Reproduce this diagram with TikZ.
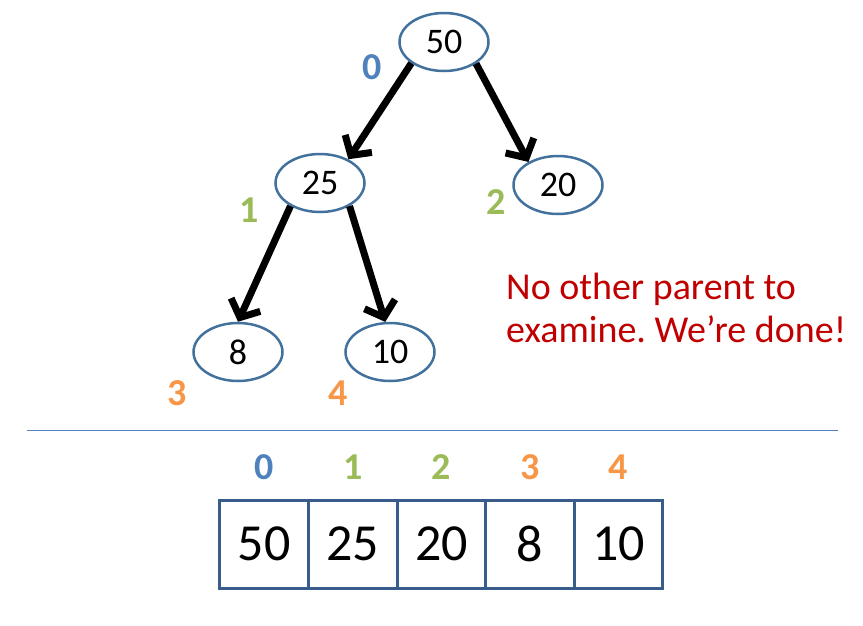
\documentclass[tikz,border=0pt]{standalone}
\usepackage{fontspec}
\setmainfont{Carlito}
\usetikzlibrary{shapes.geometric,arrows.meta}
\definecolor{nodeblue}{HTML}{41719C}
\definecolor{boxblue}{HTML}{385D8A}
\definecolor{iblue}{HTML}{4F81BD}
\definecolor{igreen}{HTML}{9BBB59}
\definecolor{iorange}{HTML}{F79646}
\definecolor{msgred}{HTML}{C00000}
\tikzset{
  heapnode/.style={ellipse, draw=nodeblue, line width=2.5pt, minimum width=89pt, minimum height=58pt, inner sep=0pt, font=\fontsize{36}{40}\selectfont},
  heaparrow/.style={line width=7pt, -{Straight Barb[length=14pt, width=32pt, line width=7pt]}},
  idx/.style={font=\fontsize{38}{42}\selectfont\bfseries, inner sep=0pt},
  cell/.style={draw=boxblue, line width=3pt, minimum width=88.6pt, minimum height=88pt, inner sep=0pt, font=\fontsize{52}{58}\selectfont},
}
\begin{document}
\frenchspacing
\begin{tikzpicture}[x=1pt,y=-1pt]
\useasboundingbox (0,0) rectangle (863,625);
% tree nodes
\node[heapnode] (n50) at (444,42) {50};
\node[heapnode] (n25) at (320,183) {25};
\node[heapnode] (n20) at (558,185) {20};
\node[heapnode] (n8) at (238,352) {8};
\node[heapnode] (n10) at (390,352) {10};
% arrows
\draw[heaparrow] (n50.213) -- (n25.40);
\draw[heaparrow] (n50.326) -- (n20.142);
\draw[heaparrow] (n25.218) -- (n8.90);
\draw[heaparrow] (n25.322) -- (n10.99);
% tree index labels
\node[idx, text=iblue] (t0) at (372,67) {0};
\node[idx, text=igreen] (t1) at (249,210) {1};
\node[idx, text=igreen] (t2) at (496,202) {2};
\node[idx, text=iorange] (t3) at (177,393) {3};
\node[idx, text=iorange] (t4) at (338,393) {4};
% message
\node[anchor=north west, align=left, text=msgred, inner sep=0pt, font=\fontsize{38}{43}\selectfont] (msg) at (506,273) {No other parent to\\examine. We’re done!};
% separator
\coordinate (sepL) at (27,430);
\coordinate (sepR) at (838,430);
\draw[iblue, line width=1pt] (sepL) -- (sepR);
% array
\node[cell] (c0) at (264.2,544.2) {50};
\node[cell] (c1) at (352.8,544.2) {25};
\node[cell] (c2) at (441.4,544.2) {20};
\node[cell] (c3) at (530,544.2) {8};
\node[cell] (c4) at (618.6,544.2) {10};
\node[idx, text=iblue] (a0) at (264.2,467) {0};
\node[idx, text=igreen] (a1) at (352.8,467) {1};
\node[idx, text=igreen] (a2) at (441.4,467) {2};
\node[idx, text=iorange] (a3) at (530,467) {3};
\node[idx, text=iorange] (a4) at (618.6,467) {4};
\end{tikzpicture}
\end{document}
